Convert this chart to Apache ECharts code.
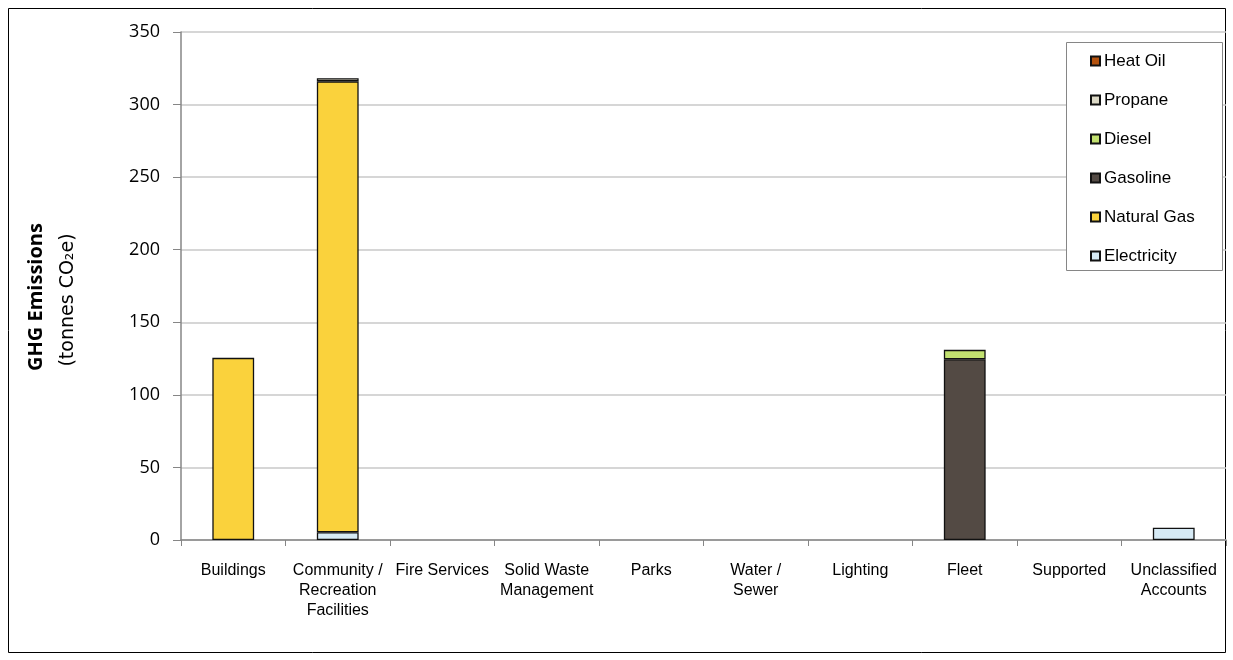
<!DOCTYPE html>
<html>
<head>
<meta charset="utf-8">
<title>GHG Emissions by Sector</title>
<script src="https://cdn.jsdelivr.net/npm/echarts@6/dist/echarts.min.js"></script>
<style>
  html, body { margin: 0; padding: 0; background: #fff; }
  #chart { width: 1233px; height: 660px; }
</style>
</head>
<body>
<div id="chart"></div>
<script>
// Sectors along the x axis
const categories = [
  'Buildings', 'Community /\nRecreation\nFacilities', 'Fire Services', 'Solid Waste\nManagement',
  'Parks', 'Water /\nSewer', 'Lighting', 'Fleet', 'Supported', 'Unclassified\nAccounts'
];

// Emissions by fuel source (tonnes CO2e); null = no emissions
const electricity = [null, 5.3, null, null, null, null, null, null, null, 8.5];
const naturalGas  = [125.5, 310.7, null, null, null, null, null, null, null, null];
const gasoline    = [null, null, null, null, null, null, null, 124.5, null, null];
const diesel      = [null, null, null, null, null, null, null, 6.5, null, null];
const propane     = [null, 2.2, null, null, null, null, null, null, null, null];
const heatOil     = [null, null, null, null, null, null, null, null, null, null];

const yTicks = [0, 50, 100, 150, 200, 250, 300, 350];

const fuelSeries = [
  { name: 'Electricity', data: electricity, color: '#D6EAF5' },
  { name: 'Natural Gas', data: naturalGas,  color: '#FAD23C' },
  { name: 'Gasoline',    data: gasoline,    color: '#534A44' },
  { name: 'Diesel',      data: diesel,      color: '#C2E170' },
  { name: 'Propane',     data: propane,     color: '#DCD9C6' },
  { name: 'Heat Oil',    data: heatOil,     color: '#B4520E' }
];

const chart = echarts.init(document.getElementById('chart'), null, { renderer: 'canvas' });

const option = {
  backgroundColor: '#fff',
  animation: false,
  grid: { left: 181, right: 7, top: 32, bottom: 120, containLabel: false },
  xAxis: {
    type: 'category',
    data: categories,
    axisLine: { lineStyle: { color: '#868686', width: 1.5 } },
    axisTick: { show: true, alignWithLabel: false, length: 6, lineStyle: { color: '#868686' } },
    axisLabel: {
      interval: 0, margin: 21,
      fontFamily: 'Liberation Sans, Arial, sans-serif', fontSize: 16, color: '#000',
      lineHeight: 20
    }
  },
  yAxis: {
    type: 'value',
    min: yTicks[0],
    max: yTicks[yTicks.length - 1],
    interval: 50,
    axisLine: { show: true, lineStyle: { color: '#868686', width: 1.5 } },
    axisTick: { show: true, length: 8, lineStyle: { color: '#868686' } },
    splitLine: { lineStyle: { color: '#C8C8C8', width: 1.5 } },
    axisLabel: {
      margin: 21,
      fontFamily: 'Open Sans, Noto Sans, sans-serif', fontSize: 18, color: '#000'
    }
  },
  legend: {
    orient: 'vertical',
    left: 1085,
    top: 47,
    itemWidth: 9,
    itemHeight: 9,
    itemGap: 21,
    icon: 'rect',
    data: fuelSeries.map(s => s.name).reverse(),
    textStyle: {
      fontFamily: 'Liberation Sans, Arial, sans-serif', fontSize: 17, color: '#000',
      padding: [0, 0, 0, -1], lineHeight: 18
    },
    z: 10
  },
  graphic: [
    // outer chart frame
    {
      type: 'rect', silent: true, z: 0,
      shape: { x: 8.5, y: 8.5, width: 1217, height: 644 },
      style: { fill: 'none', stroke: '#000', lineWidth: 1 }
    },
    // legend frame
    {
      type: 'rect', z: 5, silent: true,
      shape: { x: 1066.5, y: 42.5, width: 156, height: 228 },
      style: { fill: '#fff', stroke: '#868686', lineWidth: 1 }
    },
    // y axis title, two lines
    {
      type: 'text', rotation: Math.PI / 2, z: 5,
      x: 36, y: 297,
      style: {
        text: 'GHG Emissions',
        font: 'bold 20px "Open Sans", "Noto Sans", sans-serif',
        fill: '#000', textAlign: 'center', textVerticalAlign: 'middle'
      }
    },
    {
      type: 'text', rotation: Math.PI / 2, z: 5,
      x: 68, y: 300,
      style: {
        text: '(tonnes CO₂e)',
        font: '19px "DejaVu Sans", "Noto Sans", sans-serif',
        fill: '#000', textAlign: 'center', textVerticalAlign: 'middle'
      }
    }
  ],
  series: fuelSeries.map(s => ({
    name: s.name,
    type: 'bar',
    stack: 'fuel',
    data: s.data,
    barWidth: '40%',
    itemStyle: { color: s.color, borderColor: '#111', borderWidth: 1.3 }
  }))
};

chart.setOption(option);
</script>
</body>
</html>
